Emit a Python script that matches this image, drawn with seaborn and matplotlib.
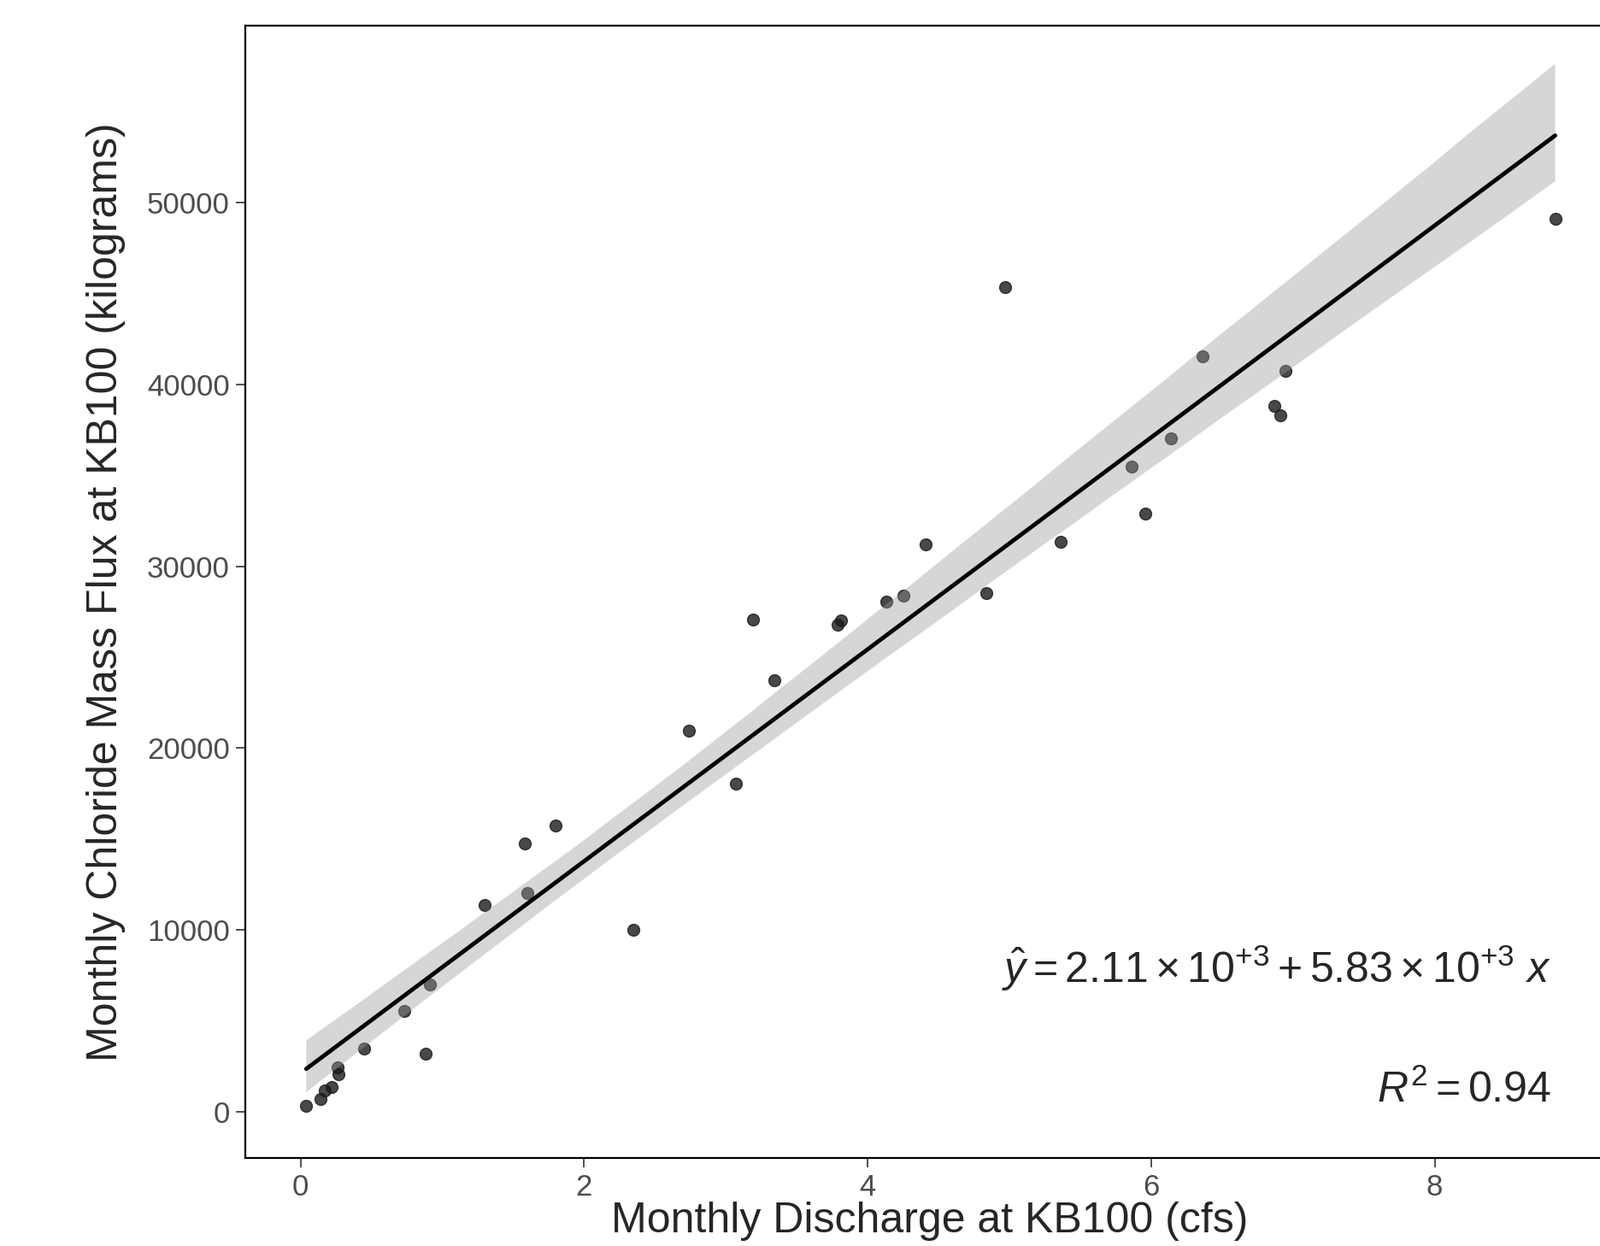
import pandas as pd
import seaborn as sns
import matplotlib.pyplot as plt

# monthly values
discharge_cfs = [0.04, 0.14, 0.17, 0.22, 0.26, 0.27, 0.45, 0.73, 0.88, 0.91,
                 1.30, 1.58, 1.60, 1.80, 2.35, 2.74, 3.07, 3.19, 3.34, 3.79,
                 3.81, 4.13, 4.25, 4.41, 4.84, 4.97, 5.36, 5.86, 5.96, 6.14,
                 6.36, 6.87, 6.91, 6.95, 8.85]
chloride_kg = [340, 730, 1180, 1400, 2470, 2070, 3480, 5550, 3200, 7000,
               11380, 14740, 12050, 15750, 10030, 20960, 18050, 27070, 23710, 26790,
               27020, 28030, 28360, 31220, 28530, 45350, 31330, 35480, 32900, 37000,
               41540, 38790, 38290, 40750, 49100]

x_ticks = [0, 2, 4, 6, 8]
y_ticks = [0, 10000, 20000, 30000, 40000, 50000]

x_label = "Monthly Discharge at KB100 (cfs)"
y_label = "Monthly Chloride Mass Flux at KB100 (kilograms)"
equation = r"$\hat{y} = 2.11 \times 10^{+3} + 5.83 \times 10^{+3}\ x$"
r2_label = r"$R^2 = 0.94$"


def set_style():
    sns.set_style("ticks")
    plt.rcParams["font.family"] = ["Liberation Sans", "DejaVu Sans"]
    plt.rcParams["mathtext.fontset"] = "custom"
    plt.rcParams["mathtext.rm"] = "Liberation Sans"
    plt.rcParams["mathtext.it"] = "Liberation Sans:italic"


def main():
    set_style()
    df = pd.DataFrame({"discharge": discharge_cfs, "chloride": chloride_kg})

    fig = plt.figure(figsize=(18.72, 14.58), dpi=100)
    ax = fig.add_axes([0.1533, 0.0706, 0.855, 0.9088])

    sns.regplot(
        data=df, x="discharge", y="chloride", ax=ax,
        color="#999999", ci=95, n_boot=2000, seed=7,
        scatter_kws={"color": "#1a1a1a", "alpha": 0.8, "s": 100},
        line_kws={"linewidth": 3.5},
    )
    # ggplot-like look: black fit line, grey60 ribbon at alpha .4 over the points
    ax.lines[-1].set_color("black")
    ax.collections[-1].set_alpha(0.4)
    ax.collections[-1].set_edgecolor("none")

    ax.set_xlim(-0.39, 9.26)
    ax.set_ylim(-2520, 59700)
    ax.set_xticks(x_ticks)
    ax.set_yticks(y_ticks)
    ax.tick_params(axis="both", labelsize=25, labelcolor="#4d4d4d",
                   color="#333333", length=8, width=1.2, pad=5)
    ax.set_xlabel(x_label, fontsize=36, labelpad=0)
    ax.set_ylabel(y_label, fontsize=36, labelpad=18)

    for side in ["left", "bottom", "top"]:
        ax.spines[side].set_color("black")
        ax.spines[side].set_linewidth(1.6)
    ax.spines["right"].set_visible(False)

    ax.text(8.82, 7100, equation, fontsize=36, ha="right", va="baseline")
    ax.text(8.82, 550, r2_label, fontsize=36, ha="right", va="baseline")

    fig.savefig("out.png", dpi=100)
    plt.close(fig)


if __name__ == "__main__":
    main()
